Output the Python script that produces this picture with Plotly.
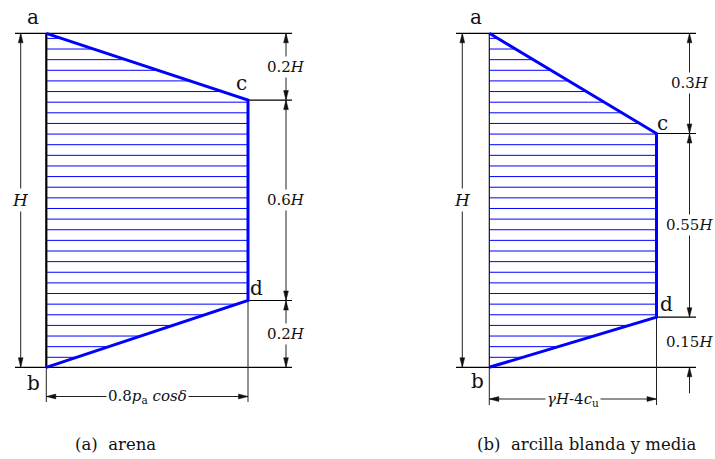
import plotly.graph_objects as go
import numpy as np

# ---------------- data ----------------
segments_a = [0.2, 0.6, 0.2]          # a-c, c-d, d-b as fractions of H (arena)
segments_b = [0.3, 0.55, 0.15]        # a-c, c-d, d-b as fractions of H (arcilla)
seg_labels_a = ["0.2<i>H</i>", "0.6<i>H</i>", "0.2<i>H</i>"]
seg_labels_b = ["0.3<i>H</i>", "0.55<i>H</i>", "0.15<i>H</i>"]
height_label = "<i>H</i>"
width_label_a = "0.8<i>p</i><sub>a</sub> <i>cosδ</i>"
width_label_b = "<i>γH</i>-4<i>c</i><sub>u</sub>"
point_labels = ["a", "c", "d", "b"]
caption_a = "(a)  arena"
caption_b = "(b)  arcilla blanda y media"

# ---------------- style / layout ----------------
FONT = "DejaVu Serif"
BLUE = "#0000ff"
DIM = "#222222"
TOP = 33.3
HPX = 334.0
HATCH_Y0 = 38.4
HATCH_DY = 10.63
N_HATCH = 31

panel_a = dict(x_wall=46.3, w=201.7, left_ext=15, right_end=292, dim_left=20.7,
               dim_right=286, dim_bottom=396.5, ext_bottom=402, wall_w=2.2,
               last_outside=False, caption_xy=(115, 444),
               lab_off=[(-13, -16), (-7, -17), (8, -13), (-13, 16)])
panel_b = dict(x_wall=489.3, w=167.2, left_ext=456, right_end=696, dim_left=462.3,
               dim_right=689.5, dim_bottom=399, ext_bottom=405, wall_w=1.1,
               last_outside=True, caption_xy=(587, 444),
               lab_off=[(-13, -16), (6, -11), (10, -13), (-12, 14)])

fig = go.Figure()


def add_line(xs, ys, color=DIM, width=1):
    fig.add_trace(go.Scatter(x=xs, y=ys, mode="lines", line=dict(color=color, width=width),
                             hoverinfo="skip", showlegend=False))


def add_arrow(x, y, direction, length=9.5, hw=2.4, color="#111111"):
    if direction == "up":
        xs, ys = [x, x - hw, x + hw, x], [y, y + length, y + length, y]
    elif direction == "down":
        xs, ys = [x, x - hw, x + hw, x], [y, y - length, y - length, y]
    elif direction == "left":
        xs, ys = [x, x + length, x + length, x], [y, y - hw, y + hw, y]
    else:
        xs, ys = [x, x - length, x - length, x], [y, y - hw, y + hw, y]
    fig.add_trace(go.Scatter(x=xs, y=ys, mode="lines", fill="toself", fillcolor=color,
                             line=dict(color=color, width=0.5), hoverinfo="skip",
                             showlegend=False))


def add_text(x, y, text, size, bg=None):
    fig.add_annotation(x=x, y=y, xref="x", yref="y", text=text, showarrow=False,
                       font=dict(family=FONT, size=size, color="#111111"),
                       bgcolor=bg, borderpad=1, xanchor="center", yanchor="middle")


def panel(segs, seg_labels, width_label, caption, P):
    cum = np.concatenate([[0.0], np.cumsum(segs)])
    ya, yc, yd, yb = TOP + cum * HPX
    x0 = P["x_wall"]
    x1 = x0 + P["w"]

    # hatching
    hx, hy = [], []
    for k in range(N_HATCH):
        y = HATCH_Y0 + k * HATCH_DY
        if y < yc:
            xe = x0 + (x1 - x0) * (y - ya) / (yc - ya)
        elif y <= yd:
            xe = x1
        else:
            xe = x0 + (x1 - x0) * (yb - y) / (yb - yd)
        hx += [x0, xe, None]
        hy += [y, y, None]
    add_line(hx, hy, color=BLUE, width=1)

    # reference lines
    add_line([P["left_ext"], P["right_end"]], [ya, ya], color="#000000", width=1.2)
    add_line([P["left_ext"], P["right_end"]], [yb, yb], color="#000000", width=1.2)
    add_line([x1, P["right_end"]], [yc, yc], color="#000000", width=1.2)
    add_line([x1, P["right_end"]], [yd, yd], color="#000000", width=1.2)
    # extension lines
    add_line([x0, x0], [yb, P["ext_bottom"]], width=1)
    add_line([x1, x1], [yd, P["ext_bottom"]], width=1)

    # wall
    add_line([x0, x0], [ya, yb], color="#000000", width=P["wall_w"])
    # pressure outline
    add_line([x0, x1, x1, x0], [ya, yc, yd, yb], color=BLUE, width=3)

    # left height dimension
    add_line([P["dim_left"]] * 2, [ya, yb], width=1)
    add_arrow(P["dim_left"], ya, "up")
    add_arrow(P["dim_left"], yb, "down")
    add_text(P["dim_left"], (ya + yb) / 2, height_label, 17, bg="white")

    # right segment dimensions
    xr = P["dim_right"]
    if P["last_outside"]:
        add_line([xr, xr], [ya, yd], width=1)
        add_arrow(xr, ya, "up")
        add_arrow(xr, yc, "down")
        add_arrow(xr, yc, "up")
        add_arrow(xr, yd, "down")
        add_line([xr, xr], [yb, yb + 26], width=1)
        add_arrow(xr, yb, "up")
    else:
        add_line([xr, xr], [ya, yb], width=1)
        add_arrow(xr, ya, "up")
        add_arrow(xr, yc, "down")
        add_arrow(xr, yc, "up")
        add_arrow(xr, yd, "down")
        add_arrow(xr, yd, "up")
        add_arrow(xr, yb, "down")
    bounds = [ya, yc, yd, yb]
    for i, lab in enumerate(seg_labels):
        ym = (bounds[i] + bounds[i + 1]) / 2
        add_text(xr, ym, lab, 15, bg="white")

    # bottom width dimension
    yb_ = P["dim_bottom"]
    add_line([x0, x1], [yb_, yb_], width=1)
    add_arrow(x0, yb_, "left")
    add_arrow(x1, yb_, "right")
    add_text((x0 + x1) / 2, yb_, width_label, 15, bg="white")

    # point labels
    pts = [(x0, ya), (x1, yc), (x1, yd), (x0, yb)]
    for lab, (px, py), (dx, dy) in zip(point_labels, pts, P["lab_off"]):
        add_text(px + dx, py + dy, lab, 20)

    # caption
    add_text(P["caption_xy"][0], P["caption_xy"][1], caption, 16.5)


panel(segments_a, seg_labels_a, width_label_a, caption_a, panel_a)
panel(segments_b, seg_labels_b, width_label_b, caption_b, panel_b)

fig.update_layout(
    width=715, height=459,
    margin=dict(l=0, r=0, t=0, b=0),
    paper_bgcolor="white", plot_bgcolor="white",
    xaxis=dict(range=[0, 715], visible=False, fixedrange=True),
    yaxis=dict(range=[459, 0], visible=False, fixedrange=True),
    showlegend=False,
)

fig.write_html("out.html", config={"displayModeBar": False},
               post_script="document.body.style.margin='0';document.body.style.overflow='hidden';")
